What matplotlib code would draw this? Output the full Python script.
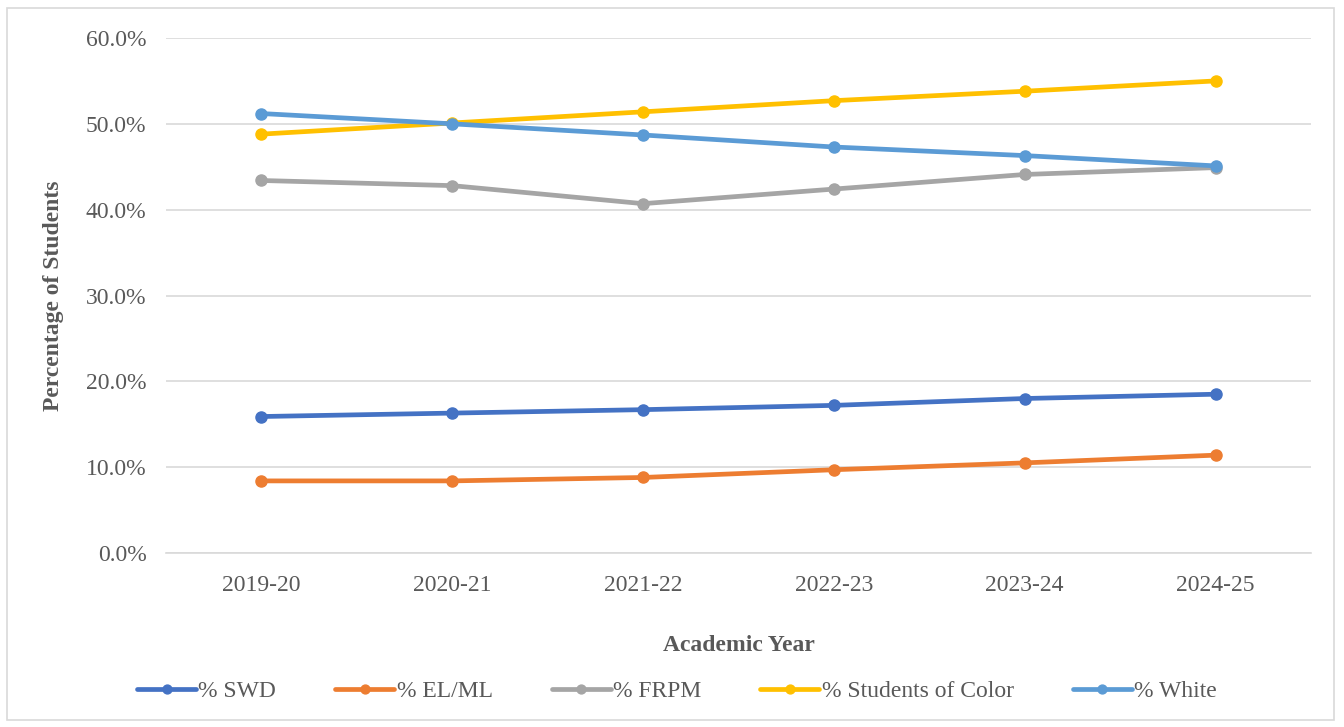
import matplotlib.pyplot as plt
from matplotlib.patches import Rectangle
from matplotlib.ticker import FuncFormatter

years = ["2019-20", "2020-21", "2021-22", "2022-23", "2023-24", "2024-25"]
swd = [15.9, 16.3, 16.7, 17.2, 18.0, 18.5]
el_ml = [8.4, 8.4, 8.8, 9.7, 10.5, 11.4]
frpm = [43.4, 42.8, 40.7, 42.4, 44.1, 44.9]
soc = [48.8, 50.1, 51.4, 52.7, 53.8, 55.0]
white = [51.2, 50.0, 48.7, 47.3, 46.3, 45.1]

series = [
    ("% SWD", swd, "#4472C4"),
    ("% EL/ML", el_ml, "#ED7D31"),
    ("% FRPM", frpm, "#A5A5A5"),
    ("% Students of Color", soc, "#FFC000"),
    ("% White", white, "#5B9BD5"),
]

plt.rcParams['font.family'] = ['Liberation Serif', 'DejaVu Serif']

fig = plt.figure(figsize=(13.44, 7.27), dpi=100)
fig.patches.append(Rectangle((7 / 1344, 7 / 727), 1327 / 1344, 712 / 727,
                             transform=fig.transFigure, fill=False,
                             edgecolor="#D9D9D9", linewidth=1.2))

ax = fig.add_axes([166 / 1344, 1 - 553 / 727, 1145 / 1344, 515 / 727])
x = range(len(years))
for i, (name, vals, col) in enumerate(series):
    ax.plot(x, [v / 100 for v in vals], color=col, lw=3.4, marker="o", ms=8,
            label=name, zorder=3 + i, solid_capstyle="round")

ax.set_xlim(-0.5, len(years) - 0.5)
ax.set_ylim(0, 0.6)
ax.set_yticks([0, 0.1, 0.2, 0.3, 0.4, 0.5, 0.6])
ax.yaxis.set_major_formatter(FuncFormatter(lambda v, p: f"{v * 100:.1f}%"))
ax.set_xticks(list(x))
ax.set_xticklabels(years)
ax.grid(axis="y", color="#D9D9D9", lw=1.2)
ax.set_axisbelow(True)
for s in ["top", "right", "left"]:
    ax.spines[s].set_visible(False)
ax.spines["bottom"].set_color("#D9D9D9")
ax.spines["bottom"].set_linewidth(1.2)
ax.tick_params(axis="both", length=0, labelsize=17, colors="#595959")
ax.tick_params(axis="x", pad=16)
ax.tick_params(axis="y", pad=14)

ax.set_xlabel("Academic Year", fontsize=17, fontweight="bold", color="#595959",
              labelpad=28)
ax.set_ylabel("Percentage of Students", fontsize=17, fontweight="bold",
              color="#595959", labelpad=16)

fig.legend(loc="center", bbox_to_anchor=(677 / 1344, 1 - 691 / 727), ncol=5,
           frameon=False, fontsize=17, handlelength=2.5, handletextpad=0.1,
           columnspacing=2.5, labelcolor="#595959", markerscale=0.8)

fig.savefig("out.png", dpi=100)
